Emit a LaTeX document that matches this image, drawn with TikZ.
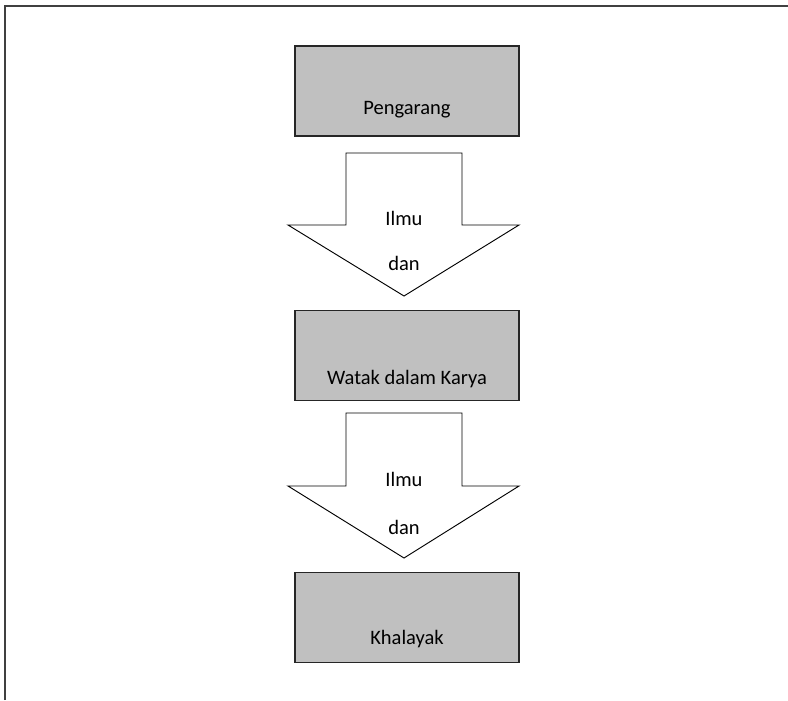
\documentclass[tikz,border=0pt]{standalone}
\usepackage{fontspec}
\setmainfont{Carlito}
\usetikzlibrary{positioning}
\definecolor{boxgray}{RGB}{192,192,192}
\definecolor{framegray}{RGB}{64,64,64}
\tikzset{
	stage/.style={draw=black!85,line width=1.2pt,fill=boxgray,minimum width=6.72cm,minimum height=2.7cm,inner sep=0pt},
	bigarrow/.style={draw=black,line width=0.8pt,fill=white,line join=miter},
	word/.style={font=\fontsize{17.5}{21}\selectfont,inner sep=0pt}
}
\begin{document}
\begin{tikzpicture}[x=0.03cm,y=-0.03cm]
	\useasboundingbox (0,0) rectangle (788,700);
	\draw[framegray,line width=1.7pt] (5,700) -- (5,6) -- (788,6);
	\node[stage] (pengarang) at (407,91) {};
	\node[stage] (watak) at (407,355.5) {};
	\node[stage] (khalayak) at (407,617.5) {};
	\node[word] (p) at (407,110) {Pengarang};
	\node[word] (w) at (407,379) {Watak dalam Karya};
	\node[word] (k) at (407,639) {Khalayak};
	\draw[bigarrow] (346,153) -- (462,153) -- (462,225) -- (519,225) -- (404,296) -- (288,225) -- (346,225) -- cycle;
	\draw[bigarrow] (346,413) -- (462,413) -- (462,486) -- (519,486) -- (404,558) -- (288,486) -- (346,486) -- cycle;
	\node[word] (ilmua) at (404,218) {Ilmu};
	\node[word] (dana) at (404,263) {dan};
	\node[word] (ilmub) at (404,479) {Ilmu};
	\node[word] (danb) at (404,527) {dan};
\end{tikzpicture}
\end{document}
